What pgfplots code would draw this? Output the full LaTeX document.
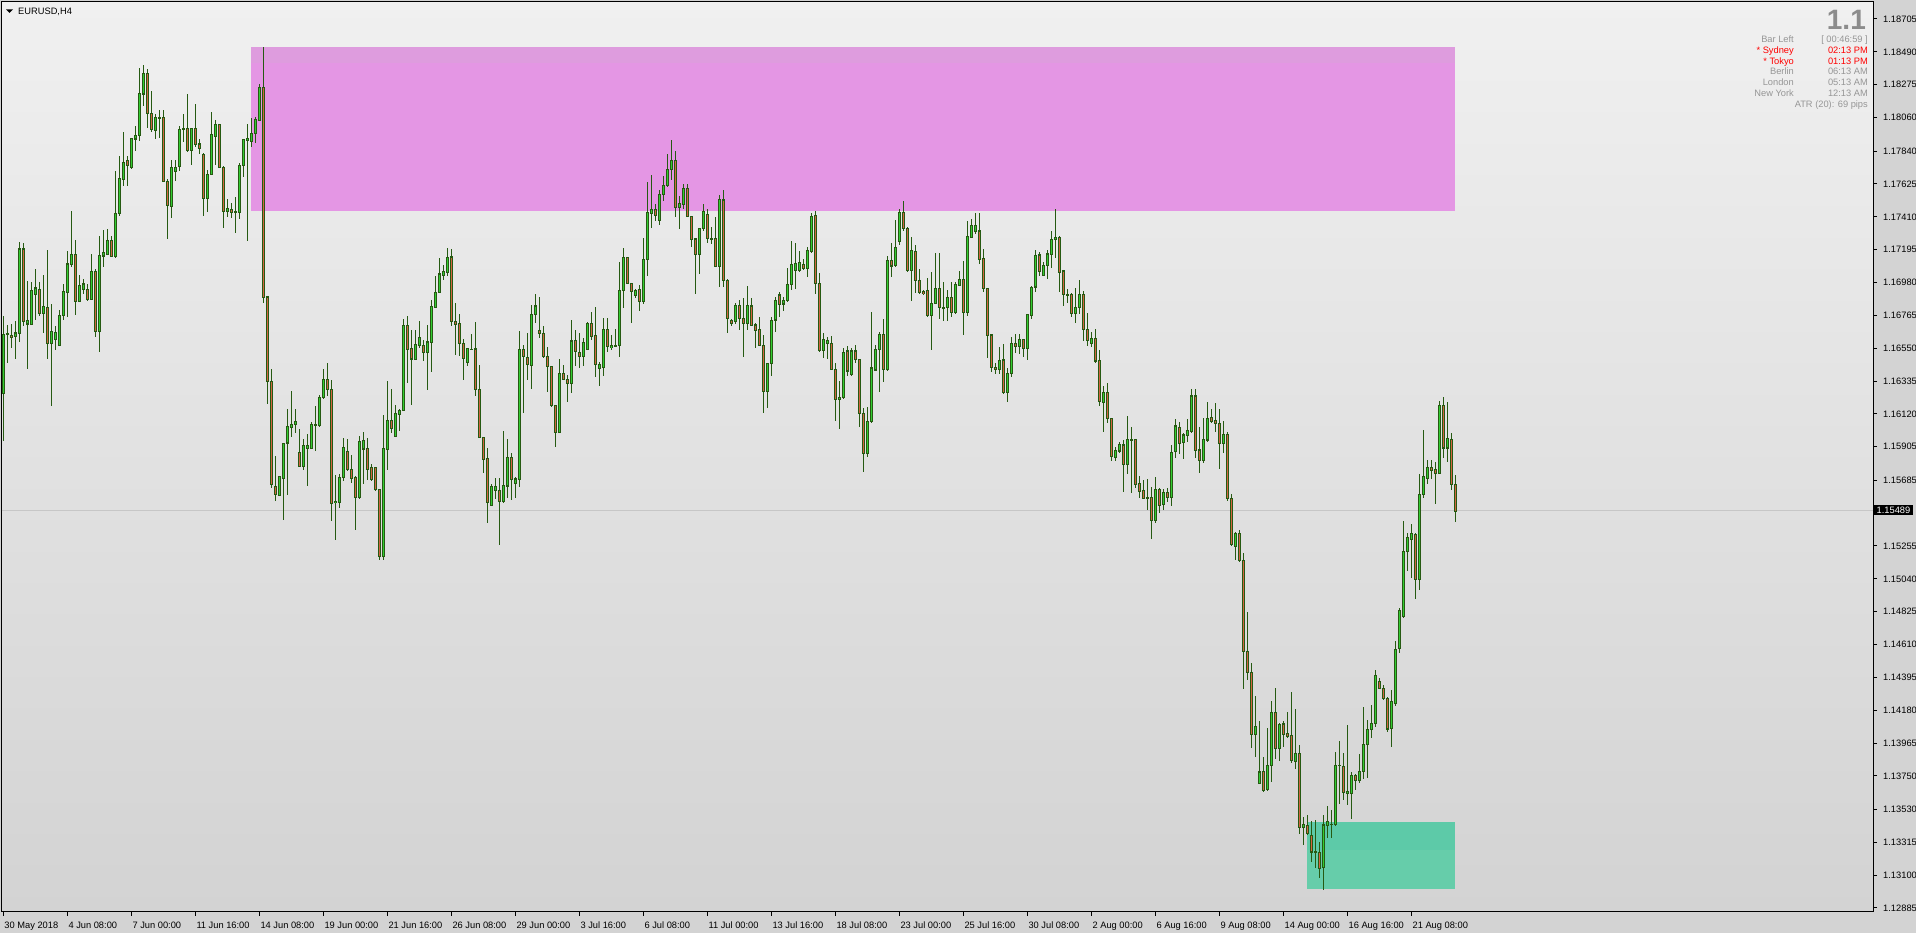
\documentclass[border=0pt]{standalone}
\usepackage{pgfplots}
\pgfplotsset{compat=1.18}
\usepackage{pgfplotstable}
\usepackage{fontspec}
\setmainfont{Liberation Sans}

\definecolor{wick}{RGB}{38,90,18}
\definecolor{bullfill}{RGB}{50,205,50}
\definecolor{bearfill}{RGB}{210,100,65}
\definecolor{outerbg}{RGB}{211,211,211}
\definecolor{bgtop}{RGB}{240,240,240}
\definecolor{bgbot}{RGB}{211,211,211}
\definecolor{zonepink}{RGB}{228,150,228}
\definecolor{zonepinktop}{RGB}{222,156,222}
\definecolor{zonegreen}{RGB}{102,205,170}
\definecolor{zonegreentop}{RGB}{93,202,168}
\definecolor{infogray}{RGB}{150,150,150}
\definecolor{biggray}{RGB}{140,140,140}

% EURUSD H4 candles: bar index, open, high, low, close
\pgfplotstableread{
i o h l c
0 1.16257 1.16763 1.15941 1.16643
1 1.16643 1.16704 1.16453 1.16640
2 1.16632 1.16711 1.16552 1.16623
3 1.16628 1.16730 1.16480 1.16650
4 1.16650 1.17247 1.16589 1.17199
5 1.17199 1.17240 1.16698 1.16726
6 1.16709 1.16992 1.16414 1.16730
7 1.16709 1.16981 1.16709 1.16929
8 1.16905 1.17068 1.16737 1.16944
9 1.16937 1.16981 1.16759 1.16780
10 1.16780 1.17031 1.16654 1.16820
11 1.16820 1.17190 1.16480 1.16584
12 1.16584 1.16841 1.16170 1.16656
13 1.16606 1.16698 1.16536 1.16656
14 1.16567 1.16802 1.16567 1.16763
15 1.16763 1.16972 1.16732 1.16918
16 1.16918 1.17188 1.16754 1.17101
17 1.17101 1.17450 1.17079 1.17162
18 1.17162 1.17260 1.16770 1.16857
19 1.16857 1.17031 1.16850 1.16959
20 1.16937 1.17003 1.16905 1.16970
21 1.16937 1.16970 1.16861 1.16872
22 1.16872 1.17168 1.16868 1.17049
23 1.17049 1.17068 1.16621 1.16661
24 1.16661 1.17282 1.16523 1.17155
25 1.17155 1.17325 1.17086 1.17179
26 1.17166 1.17332 1.17162 1.17254
27 1.17254 1.17286 1.17147 1.17151
28 1.17151 1.17711 1.17140 1.17430
29 1.17430 1.17805 1.17413 1.17663
30 1.17657 1.17964 1.17615 1.17768
31 1.17777 1.17811 1.17609 1.17746
32 1.17733 1.17929 1.17724 1.17921
33 1.17921 1.18006 1.17844 1.17945
34 1.17945 1.18387 1.17910 1.18215
35 1.18215 1.18405 1.18139 1.18346
36 1.18346 1.18378 1.17995 1.18088
37 1.18088 1.18235 1.17964 1.17984
38 1.17979 1.18084 1.17918 1.18062
39 1.18062 1.18110 1.17929 1.18059
40 1.18062 1.18110 1.17642 1.17642
41 1.17642 1.17657 1.17267 1.17489
42 1.17482 1.17783 1.17406 1.17735
43 1.17707 1.17783 1.17648 1.17735
44 1.17740 1.18006 1.17713 1.17984
45 1.17984 1.18084 1.17903 1.17990
46 1.17990 1.18215 1.17838 1.17844
47 1.17844 1.17990 1.17751 1.17990
48 1.17990 1.18149 1.17870 1.17886
49 1.17886 1.17921 1.17820 1.17860
50 1.17820 1.17827 1.17413 1.17533
51 1.17533 1.17718 1.17439 1.17690
52 1.17690 1.18099 1.17685 1.17947
53 1.17940 1.18040 1.17751 1.18012
54 1.18012 1.18012 1.17729 1.17735
55 1.17735 1.17744 1.17336 1.17445
56 1.17445 1.17526 1.17413 1.17461
57 1.17461 1.17500 1.17402 1.17441
58 1.17441 1.17539 1.17304 1.17438
59 1.17441 1.17761 1.17395 1.17748
60 1.17748 1.17921 1.17670 1.17914
61 1.17910 1.18019 1.17256 1.17925
62 1.17903 1.18056 1.17870 1.17958
63 1.17958 1.18067 1.17897 1.18045
64 1.18045 1.18280 1.18040 1.18258
65 1.18258 1.18524 1.16846 1.16885
66 1.16885 1.16885 1.16185 1.16334
67 1.16334 1.16414 1.15636 1.15658
68 1.15647 1.15847 1.15549 1.15592
69 1.15588 1.15708 1.15588 1.15708
70 1.15701 1.15924 1.15429 1.15924
71 1.15930 1.16153 1.15588 1.16035
72 1.16035 1.16272 1.15967 1.16054
73 1.16054 1.16153 1.15996 1.16068
74 1.15865 1.16022 1.15771 1.15778
75 1.15778 1.15956 1.15756 1.15913
76 1.15897 1.15991 1.15651 1.15913
77 1.15897 1.16065 1.15887 1.16054
78 1.16050 1.16174 1.15876 1.16054
79 1.16046 1.16246 1.16033 1.16225
80 1.16225 1.16414 1.16218 1.16344
81 1.16344 1.16453 1.16240 1.16279
82 1.16279 1.16340 1.15418 1.15538
83 1.15538 1.15723 1.15298 1.15549
84 1.15538 1.15728 1.15505 1.15701
85 1.15701 1.15963 1.15680 1.15897
86 1.15871 1.15959 1.15745 1.15756
87 1.15756 1.15854 1.15669 1.15701
88 1.15701 1.15712 1.15363 1.15571
89 1.15571 1.15974 1.15564 1.15937
90 1.15891 1.16002 1.15658 1.15946
91 1.15891 1.15963 1.15690 1.15756
92 1.15767 1.15793 1.15680 1.15690
93 1.15767 1.15767 1.15614 1.15625
94 1.15625 1.15625 1.15167 1.15189
95 1.15189 1.16116 1.15167 1.15891
96 1.15891 1.16338 1.15756 1.16076
97 1.16076 1.16286 1.15996 1.16028
98 1.15974 1.16181 1.15969 1.16120
99 1.16120 1.16153 1.16006 1.16142
100 1.16142 1.16743 1.16137 1.16698
101 1.16698 1.16759 1.16323 1.16545
102 1.16545 1.16667 1.16176 1.16480
103 1.16480 1.16671 1.16475 1.16573
104 1.16569 1.16732 1.16552 1.16623
105 1.16569 1.16606 1.16464 1.16525
106 1.16525 1.16704 1.16279 1.16591
107 1.16591 1.16863 1.16392 1.16820
108 1.16820 1.17025 1.16813 1.16916
109 1.16916 1.17140 1.16911 1.17036
110 1.17027 1.17092 1.16994 1.17049
111 1.17049 1.17206 1.17020 1.17147
112 1.17147 1.17199 1.16698 1.16726
113 1.16726 1.16846 1.16508 1.16704
114 1.16709 1.16776 1.16497 1.16584
115 1.16584 1.16610 1.16344 1.16486
116 1.16458 1.16552 1.16436 1.16545
117 1.16545 1.16645 1.16541 1.16542
118 1.16545 1.16722 1.16240 1.16279
119 1.16279 1.16443 1.15963 1.15967
120 1.15967 1.15967 1.15734 1.15826
121 1.15826 1.15897 1.15407 1.15542
122 1.15520 1.15662 1.15516 1.15647
123 1.15621 1.15701 1.15564 1.15647
124 1.15621 1.15701 1.15265 1.15549
125 1.15549 1.16009 1.15536 1.15649
126 1.15649 1.15955 1.15569 1.15837
127 1.15837 1.15867 1.15558 1.15689
128 1.15667 1.15710 1.15569 1.15693
129 1.15693 1.16663 1.15645 1.16543
130 1.16543 1.16572 1.16129 1.16495
131 1.16491 1.16648 1.16343 1.16445
132 1.16436 1.16833 1.16282 1.16772
133 1.16772 1.16905 1.16713 1.16827
134 1.16663 1.16883 1.16615 1.16648
135 1.16648 1.16696 1.16484 1.16495
136 1.16495 1.16556 1.16260 1.16430
137 1.16430 1.16434 1.16164 1.16175
138 1.16175 1.16179 1.15907 1.15998
139 1.15998 1.16478 1.15998 1.16386
140 1.16386 1.16441 1.16338 1.16347
141 1.16347 1.16375 1.16201 1.16321
142 1.16321 1.16735 1.16260 1.16598
143 1.16598 1.16670 1.16430 1.16528
144 1.16524 1.16648 1.16419 1.16495
145 1.16495 1.16620 1.16436 1.16589
146 1.16543 1.16724 1.16539 1.16709
147 1.16709 1.16785 1.16604 1.16626
148 1.16630 1.16822 1.16358 1.16445
149 1.16419 1.16462 1.16306 1.16445
150 1.16425 1.16746 1.16371 1.16670
151 1.16670 1.16746 1.16528 1.16561
152 1.16556 1.16637 1.16539 1.16567
153 1.16567 1.16676 1.16561 1.16564
154 1.16567 1.17112 1.16495 1.16931
155 1.16927 1.17204 1.16816 1.17145
156 1.17145 1.17149 1.16968 1.16975
157 1.16975 1.16979 1.16718 1.16920
158 1.16894 1.16942 1.16877 1.16931
159 1.16931 1.16964 1.16796 1.16855
160 1.16855 1.17274 1.16838 1.17132
161 1.17132 1.17635 1.17025 1.17439
162 1.17433 1.17683 1.17335 1.17459
163 1.17459 1.17494 1.17385 1.17417
164 1.17389 1.17590 1.17361 1.17559
165 1.17559 1.17677 1.17513 1.17614
166 1.17614 1.17821 1.17607 1.17720
167 1.17720 1.17912 1.17651 1.17777
168 1.17777 1.17842 1.17406 1.17472
169 1.17472 1.17546 1.17328 1.17498
170 1.17494 1.17629 1.17465 1.17596
171 1.17596 1.17622 1.17406 1.17411
172 1.17411 1.17411 1.17215 1.17263
173 1.17265 1.17269 1.16903 1.17167
174 1.17167 1.17341 1.17040 1.17335
175 1.17335 1.17498 1.17319 1.17448
176 1.17426 1.17465 1.17241 1.17269
177 1.17269 1.17345 1.17230 1.17265
178 1.17269 1.17406 1.17079 1.17088
179 1.17084 1.17553 1.16949 1.17520
180 1.17520 1.17585 1.16953 1.16997
181 1.16997 1.17001 1.16652 1.16746
182 1.16729 1.16739 1.16698 1.16713
183 1.16724 1.16844 1.16707 1.16827
184 1.16827 1.16866 1.16670 1.16746
185 1.16746 1.16881 1.16495 1.16713
186 1.16713 1.16957 1.16670 1.16827
187 1.16827 1.16877 1.16698 1.16702
188 1.16702 1.16713 1.16550 1.16670
189 1.16670 1.16757 1.16565 1.16567
190 1.16567 1.16637 1.16129 1.16266
191 1.16266 1.16456 1.16157 1.16452
192 1.16452 1.16757 1.16369 1.16735
193 1.16735 1.16888 1.16659 1.16859
194 1.16899 1.16916 1.16757 1.16838
195 1.16840 1.16888 1.16794 1.16861
196 1.16861 1.17073 1.16855 1.16968
197 1.16968 1.17254 1.16931 1.17099
198 1.17058 1.17243 1.16942 1.17106
199 1.17058 1.17186 1.17051 1.17110
200 1.17099 1.17138 1.17062 1.17073
201 1.17073 1.17215 1.17014 1.17186
202 1.17186 1.17433 1.17175 1.17415
203 1.17417 1.17450 1.16909 1.16975
204 1.16975 1.17040 1.16528 1.16539
205 1.16539 1.16648 1.16489 1.16609
206 1.16582 1.16622 1.16478 1.16598
207 1.16582 1.16630 1.16408 1.16412
208 1.16412 1.16456 1.16070 1.16216
209 1.16216 1.16332 1.16020 1.16229
210 1.16229 1.16550 1.16216 1.16524
211 1.16532 1.16565 1.16369 1.16402
212 1.16380 1.16550 1.16369 1.16532
213 1.16532 1.16572 1.16452 1.16478
214 1.16478 1.16478 1.16033 1.16125
215 1.16125 1.16162 1.15743 1.15863
216 1.15863 1.16164 1.15841 1.16070
217 1.16070 1.16785 1.16059 1.16419
218 1.16408 1.16572 1.16408 1.16543
219 1.16543 1.16654 1.16260 1.16641
220 1.16641 1.16742 1.16332 1.16412
221 1.16412 1.17154 1.16397 1.17123
222 1.17123 1.17236 1.17014 1.17090
223 1.17090 1.17389 1.17084 1.17208
224 1.17247 1.17465 1.17230 1.17439
225 1.17439 1.17513 1.17319 1.17335
226 1.17335 1.17341 1.17051 1.17058
227 1.17058 1.17280 1.16859 1.17186
228 1.17186 1.17226 1.16914 1.16992
229 1.16992 1.17069 1.16903 1.16916
230 1.16920 1.16931 1.16899 1.16909
231 1.16931 1.17008 1.16757 1.16763
232 1.16763 1.17047 1.16539 1.16844
233 1.16844 1.17171 1.16838 1.16942
234 1.16942 1.17171 1.16739 1.16816
235 1.16818 1.16986 1.16729 1.16815
236 1.16818 1.16931 1.16731 1.16883
237 1.16883 1.16981 1.16757 1.16783
238 1.16783 1.16986 1.16772 1.16964
239 1.16964 1.17058 1.16960 1.16997
240 1.16997 1.17121 1.16637 1.16783
241 1.16783 1.17385 1.16761 1.17284
242 1.17276 1.17393 1.17269 1.17350
243 1.17313 1.17439 1.17302 1.17356
244 1.17317 1.17433 1.17101 1.17132
245 1.17138 1.17199 1.16916 1.16942
246 1.16942 1.16942 1.16489 1.16632
247 1.16636 1.16643 1.16397 1.16425
248 1.16425 1.16451 1.16379 1.16412
249 1.16412 1.16560 1.16379 1.16473
250 1.16473 1.16577 1.16248 1.16259
251 1.16259 1.16418 1.16200 1.16386
252 1.16386 1.16621 1.16364 1.16582
253 1.16582 1.16643 1.16516 1.16560
254 1.16560 1.16647 1.16516 1.16604
255 1.16604 1.16608 1.16495 1.16549
256 1.16549 1.16774 1.16477 1.16767
257 1.16763 1.16957 1.16745 1.16948
258 1.16952 1.17192 1.16915 1.17160
259 1.17160 1.17181 1.17024 1.17051
260 1.17029 1.17116 1.17024 1.17094
261 1.17090 1.17192 1.17000 1.17166
262 1.17164 1.17317 1.17077 1.17264
263 1.17262 1.17460 1.17138 1.17275
264 1.17275 1.17284 1.16920 1.17044
265 1.17055 1.17061 1.16828 1.16902
266 1.16902 1.16935 1.16848 1.16899
267 1.16902 1.16909 1.16756 1.16778
268 1.16778 1.16946 1.16717 1.16817
269 1.16817 1.16996 1.16772 1.16902
270 1.16902 1.16924 1.16599 1.16673
271 1.16673 1.16782 1.16567 1.16604
272 1.16582 1.16654 1.16560 1.16615
273 1.16615 1.16676 1.16451 1.16468
274 1.16468 1.16538 1.16174 1.16200
275 1.16196 1.16303 1.16004 1.16261
276 1.16261 1.16325 1.16059 1.16091
277 1.16091 1.16096 1.15812 1.15841
278 1.15836 1.15906 1.15812 1.15878
279 1.15878 1.15939 1.15862 1.15917
280 1.15917 1.15950 1.15612 1.15790
281 1.15790 1.16107 1.15725 1.15950
282 1.15950 1.16037 1.15601 1.15947
283 1.15950 1.15956 1.15633 1.15660
284 1.15666 1.15710 1.15568 1.15612
285 1.15616 1.15688 1.15562 1.15568
286 1.15572 1.15694 1.15492 1.15569
287 1.15575 1.15644 1.15300 1.15422
288 1.15422 1.15710 1.15405 1.15623
289 1.15623 1.15634 1.15474 1.15520
290 1.15525 1.15627 1.15492 1.15607
291 1.15607 1.15634 1.15542 1.15575
292 1.15575 1.15913 1.15514 1.15869
293 1.15873 1.16085 1.15830 1.16041
294 1.16032 1.16070 1.15856 1.15928
295 1.15932 1.15998 1.15823 1.15982
296 1.15978 1.16085 1.15939 1.16009
297 1.16004 1.16283 1.15993 1.16237
298 1.16237 1.16283 1.15834 1.15880
299 1.15884 1.16037 1.15732 1.15814
300 1.15814 1.16091 1.15801 1.15950
301 1.15950 1.16200 1.15939 1.16091
302 1.16098 1.16152 1.16059 1.16070
303 1.16074 1.16189 1.16004 1.16059
304 1.16059 1.16152 1.15758 1.15928
305 1.15928 1.16074 1.15867 1.15987
306 1.15987 1.16004 1.15553 1.15568
307 1.15567 1.15595 1.15257 1.15264
308 1.15253 1.15346 1.15162 1.15339
309 1.15339 1.15361 1.15153 1.15158
310 1.15162 1.15213 1.14318 1.14565
311 1.14565 1.14826 1.14380 1.14428
312 1.14428 1.14490 1.13931 1.14020
313 1.14020 1.14274 1.13871 1.14075
314 1.13704 1.14108 1.13704 1.13776
315 1.13776 1.13876 1.13644 1.13655
316 1.13662 1.14064 1.13650 1.13821
317 1.13821 1.14241 1.13710 1.14163
318 1.14163 1.14329 1.13860 1.13931
319 1.13931 1.14097 1.13847 1.14086
320 1.14090 1.14108 1.13942 1.14024
321 1.14026 1.14170 1.13997 1.14013
322 1.14013 1.14296 1.13832 1.13854
323 1.13847 1.14185 1.13794 1.13898
324 1.13898 1.13953 1.13368 1.13412
325 1.13412 1.13482 1.13295 1.13429
326 1.13423 1.13496 1.13361 1.13372
327 1.13363 1.13456 1.13184 1.13253
328 1.13253 1.13460 1.13147 1.13250
329 1.13246 1.13319 1.13080 1.13147
330 1.13151 1.13496 1.13003 1.13429
331 1.13429 1.13551 1.13341 1.13449
332 1.13434 1.13529 1.13345 1.13431
333 1.13434 1.13909 1.13423 1.13821
334 1.13821 1.13980 1.13566 1.13818
335 1.13814 1.13902 1.13595 1.13644
336 1.13637 1.14086 1.13560 1.13650
337 1.13637 1.13776 1.13467 1.13754
338 1.13754 1.13765 1.13655 1.13721
339 1.13721 1.13891 1.13704 1.13781
340 1.13781 1.14201 1.13728 1.13958
341 1.13958 1.14119 1.13737 1.14053
342 1.14057 1.14214 1.14002 1.14090
343 1.14092 1.14446 1.14068 1.14411
344 1.14367 1.14395 1.14318 1.14322
345 1.14325 1.14347 1.14245 1.14256
346 1.14258 1.14267 1.14035 1.14059
347 1.14059 1.14313 1.13938 1.14234
348 1.14225 1.14634 1.14207 1.14579
349 1.14583 1.14848 1.14557 1.14831
350 1.14793 1.15418 1.14782 1.15220
351 1.15217 1.15339 1.15091 1.15308
352 1.15301 1.15401 1.15047 1.15334
353 1.15330 1.15341 1.14910 1.15036
354 1.15036 1.15726 1.14970 1.15593
355 1.15593 1.16013 1.15567 1.15710
356 1.15699 1.15821 1.15662 1.15770
357 1.15770 1.15816 1.15695 1.15754
358 1.15754 1.15803 1.15527 1.15728
359 1.15728 1.16203 1.15728 1.16174
360 1.16174 1.16230 1.15832 1.15898
361 1.15898 1.16196 1.15805 1.15958
362 1.15953 1.15993 1.15626 1.15655
363 1.15655 1.15721 1.15416 1.15485
}\candles

\begin{document}
\begin{tikzpicture}[x=1pt,y=1pt]
\fill[outerbg] (0,0) rectangle (1916,933);
\path[use as bounding box] (0,0) rectangle (1916,933);
\begin{axis}[
  at={(2pt,21pt)}, anchor=south west,
  scale only axis, width=1871pt, height=910pt,
  xmin=-0.325, xmax=467.4, ymin=1.128588, ymax=1.188163,
  axis background/.style={top color=bgtop, bottom color=bgbot},
  axis line style={black, line width=1pt},
  tick align=outside, major tick length=4pt,
  tick style={black, line width=1pt},
  xtick pos=left, ytick pos=right, yticklabel pos=right,
  scaled y ticks=false,
  xtick={0,16,...,352},
  xticklabels={30 May 2018, 4 Jun 08:00, 7 Jun 00:00, 11 Jun 16:00, 14 Jun 08:00, 19 Jun 00:00, 21 Jun 16:00, 26 Jun 08:00, 29 Jun 00:00, 3 Jul 16:00, 6 Jul 08:00, 11 Jul 00:00, 13 Jul 16:00, 18 Jul 08:00, 23 Jul 00:00, 25 Jul 16:00, 30 Jul 08:00, 2 Aug 00:00, 6 Aug 16:00, 9 Aug 08:00, 14 Aug 00:00, 16 Aug 16:00, 21 Aug 08:00},
  ytick={1.12885,1.13100,1.13315,1.13530,1.13750,1.13965,1.14180,1.14395,1.14610,1.14825,1.15040,1.15255,1.15470,1.15685,1.15905,1.16120,1.16335,1.16550,1.16765,1.16980,1.17195,1.17410,1.17625,1.17840,1.18060,1.18275,1.18490,1.18705},
  yticklabels={1.12885,1.13100,1.13315,1.13530,1.13750,1.13965,1.14180,1.14395,1.14610,1.14825,1.15040,1.15255,{},1.15685,1.15905,1.16120,1.16335,1.16550,1.16765,1.16980,1.17195,1.17410,1.17625,1.17840,1.18060,1.18275,1.18490,1.18705},
  ticklabel style={font=\fontsize{9.3}{11}\selectfont},
  xticklabel style={anchor=base west, inner sep=0pt, xshift=1pt, yshift=-13pt},
  yticklabel style={anchor=west, inner sep=0pt, xshift=6pt},
]
% zones
\addplot[fill=zonepink, draw=none] coordinates {(61.9,1.17450) (362.9,1.17450) (362.9,1.18524) (61.9,1.18524)} -- cycle;
\addplot[fill=zonepinktop, draw=none] coordinates {(61.9,1.18415) (362.9,1.18415) (362.9,1.18524) (61.9,1.18524)} -- cycle;
\addplot[fill=zonegreen, draw=none] coordinates {(325.9,1.13007) (362.9,1.13007) (362.9,1.13449) (325.9,1.13449)} -- cycle;
\addplot[fill=zonegreentop, draw=none] coordinates {(325.9,1.13264) (362.9,1.13264) (362.9,1.13449) (325.9,1.13449)} -- cycle;
% current price line
\addplot[color=black!22, line width=1pt] coordinates {(-0.325,1.15489) (467.4,1.15489)};
% wicks
\addplot[draw=none, mark=none, error bars/.cd, y dir=both, y explicit, error mark=none,
  error bar style={draw=wick, line width=1pt}]
  table[x=i, y expr={(\thisrow{h}+\thisrow{l})/2}, y error expr={(\thisrow{h}-\thisrow{l})/2}] {\candles};
% body outlines
\addplot[draw=none, mark=none, error bars/.cd, y dir=both, y explicit, error mark=none,
  error bar style={draw=wick, line width=3.3pt}]
  table[x=i, y expr={(\thisrow{o}+\thisrow{c})/2}, y error expr={abs(\thisrow{o}-\thisrow{c})/2+0.00004}] {\candles};
% bull bodies
\addplot[draw=none, mark=none, unbounded coords=discard, error bars/.cd, y dir=both, y explicit, error mark=none,
  error bar style={draw=bullfill, line width=1.5pt}]
  table[x=i, y expr={\thisrow{c}>\thisrow{o} ? (\thisrow{o}+\thisrow{c})/2 : nan}, y error expr={max(abs(\thisrow{o}-\thisrow{c})/2-0.00003,0)}] {\candles};
% bear bodies
\addplot[draw=none, mark=none, unbounded coords=discard, error bars/.cd, y dir=both, y explicit, error mark=none,
  error bar style={draw=bearfill, line width=1.5pt}]
  table[x=i, y expr={\thisrow{c}<\thisrow{o} ? (\thisrow{o}+\thisrow{c})/2 : nan}, y error expr={max(abs(\thisrow{o}-\thisrow{c})/2-0.00003,0)}] {\candles};
\end{axis}
% current price label
\node[fill=black, text=white, anchor=west, inner xsep=2.5pt, inner ysep=1.5pt, font=\fontsize{9.3}{11}\selectfont] at (1874,423) {1.15489};
% symbol title
\fill[black] (6,923.5) -- (13,923.5) -- (9.5,920) -- cycle;
\node[anchor=base west, inner sep=0pt, font=\fontsize{9.3}{11}\selectfont] at (18,918.5) {EURUSD,H4};
% info panel
\node[anchor=base east, inner sep=0pt, text=biggray, font=\fontsize{28}{30}\selectfont\bfseries] at (1866,903) {1.1};
\begin{scope}[every node/.style={anchor=base east, inner sep=0pt, font=\fontsize{9.3}{11}\selectfont}]
\node[text=infogray] at (1794,890.5) {Bar Left};
\node[text=infogray] at (1868,890.5) {[ 00:46:59 ]};
\node[text=red] at (1794,879.5) {* Sydney};
\node[text=red] at (1868,879.5) {02:13 PM};
\node[text=red] at (1794,868.5) {* Tokyo};
\node[text=red] at (1868,868.5) {01:13 PM};
\node[text=infogray] at (1794,858) {Berlin};
\node[text=infogray] at (1868,858) {06:13 AM};
\node[text=infogray] at (1794,847) {London};
\node[text=infogray] at (1868,847) {05:13 AM};
\node[text=infogray] at (1794,836) {New York};
\node[text=infogray] at (1868,836) {12:13 AM};
\node[text=infogray] at (1868,825) {ATR (20): 69 pips};
\end{scope}
\end{tikzpicture}
\end{document}
